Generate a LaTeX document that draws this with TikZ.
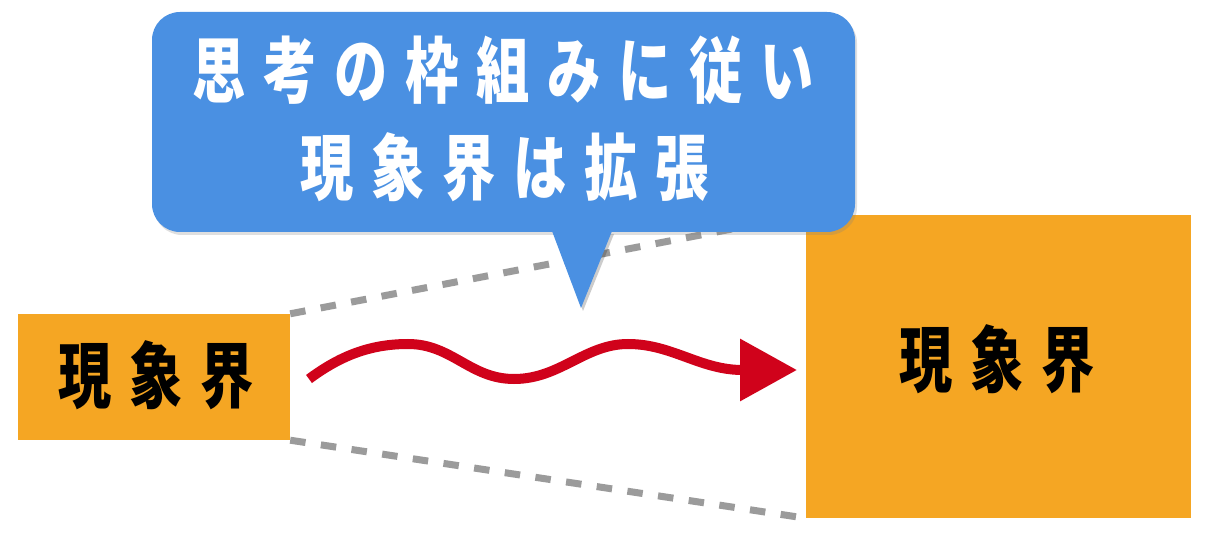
\documentclass[tikz,border=0pt]{standalone}
\usepackage{graphicx}
\usepackage{fontspec}
\newfontfamily\jp{Noto Sans CJK JP}
\usetikzlibrary{arrows.meta,shadows}
\definecolor{boxorange}{HTML}{F5A623}
\definecolor{bubbleblue}{HTML}{4A90E2}
\definecolor{wavered}{HTML}{D0021B}
\definecolor{dashgray}{HTML}{9B9B9B}
\ExplSyntaxOn
\NewDocumentCommand\spchars{m}{\tl_map_inline:nn {#1} {\makebox[71pt]{\scalebox{0.74}[1]{##1}}}}
\ExplSyntaxOff
\tikzset{
  obox/.style={fill=boxorange, draw=none, inner sep=0pt},
  jtext/.style={inner sep=0pt, font=\jp\bfseries\fontsize{72pt}{80pt}\selectfont},
  blacktext/.style={jtext, text=black},
  whitetext/.style={jtext, text=white},
  bubble/.style={fill=bubbleblue, draw=none, rounded corners=28pt, inner sep=0pt,
    drop shadow={opacity=0.25, shadow xshift=2pt, shadow yshift=-3pt}},
  frameline/.style={draw=dashgray, line width=7pt, dash pattern=on 15.5pt off 15.5pt},
  wavearrow/.style={draw=wavered, line width=10pt,
    -{Triangle[length=57pt,width=60pt]}, color=wavered}
}
\begin{document}
\begin{tikzpicture}[x=1pt,y=-1pt]
\useasboundingbox[fill=white] (0,0) rectangle (1207,534);
% boxes (shape only) for anchors
\path (154,377) node[obox, minimum width=272pt, minimum height=126pt] (small) {};
\path (998.5,366.5) node[obox, minimum width=385pt, minimum height=303pt] (big) {};
% dashed frame lines
\draw[frameline] (small.north east) -- (big.north west);
\draw[frameline] (small.south east) -- (big.south west);
% redraw boxes on top
\fill[boxorange] (small.north west) rectangle (small.south east);
\fill[boxorange] (big.north west) rectangle (big.south east);
\node[blacktext] (smalltxt) at (156,375.5) {\spchars{現象界}};
\node[blacktext] (bigtxt) at (997,359) {\spchars{現象界}};
% wave arrow
\coordinate (ws) at (309,379);
\coordinate (we) at (797,370);
\draw[wavearrow] (ws) .. controls (340,356) and (370,344) .. (408,344)
  .. controls (452,344) and (470,379) .. (514,379)
  .. controls (560,379) and (585,344) .. (628,344)
  .. controls (672,344) and (700,370) .. (we);
% callout bubble
\coordinate (tl) at (552,231);
\coordinate (tr) at (612,231);
\coordinate (tip) at (581,308);
\fill[black, opacity=0.2] ([shift={(2,3)}]tl) -- ([shift={(2,3)}]tip) -- ([shift={(2,3)}]tr) -- cycle;
\node[bubble, minimum width=703pt, minimum height=220pt] (callout) at (503.5,122) {};
\fill[bubbleblue] (tl) -- (tip) -- (tr) -- cycle;
\node[whitetext] (line1) at (503.5,70.5) {\spchars{思考の枠組みに従い}};
\node[whitetext] (line2) at (504.5,167) {\spchars{現象界は拡張}};
\end{tikzpicture}
\end{document}
